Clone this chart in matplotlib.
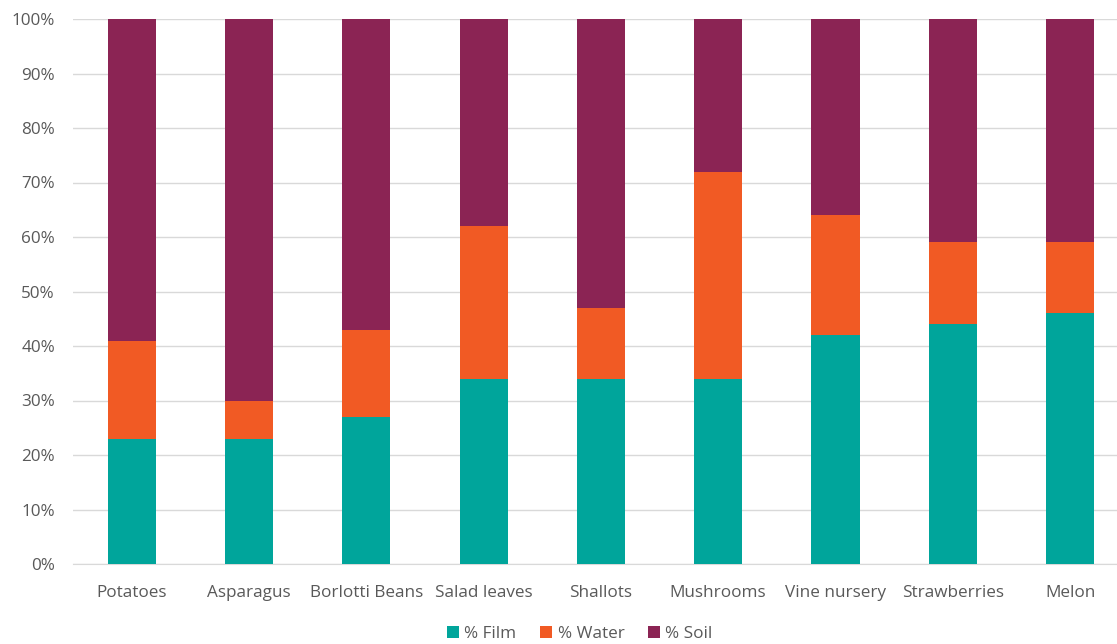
import numpy as np
import matplotlib.pyplot as plt
from matplotlib.ticker import PercentFormatter

# Share of each crop's footprint by component (percent)
crops = ["Potatoes", "Asparagus", "Borlotti Beans", "Salad leaves", "Shallots",
         "Mushrooms", "Vine nursery", "Strawberries", "Melon"]
film = [23, 23, 27, 34, 34, 34, 42, 44, 46]
water = [18, 7, 16, 28, 13, 38, 22, 15, 13]
soil = [100 - f - w for f, w in zip(film, water)]

colors = ["#00A59B", "#F15A24", "#8B2454"]
text_color = "#595959"

plt.rcParams['font.family'] = ['Open Sans', 'DejaVu Sans']

fig = plt.figure(figsize=(11.17, 6.44), dpi=100)
ax = fig.add_axes([73 / 1117, 80 / 644, (1117 - 73) / 1117, 545 / 644])

x = np.arange(len(crops))
width = 0.41
bottom = np.zeros(len(crops))
for vals, label, c in zip([film, water, soil], ["% Film", "% Water", "% Soil"], colors):
    ax.bar(x, vals, width, bottom=bottom, color=c, label=label, zorder=3)
    bottom += np.array(vals)

ax.set_ylim(0, 100)
ax.set_xlim(-0.5, 8.40)
ax.set_yticks(np.arange(0, 101, 10))
ax.yaxis.set_major_formatter(PercentFormatter(decimals=0))
ax.set_xticks(x)
ax.set_xticklabels(crops)
ax.tick_params(axis='both', length=0, colors=text_color, labelsize=12.3)
ax.tick_params(axis='x', pad=15)
ax.tick_params(axis='y', pad=13)
ax.grid(axis='y', color="#D9D9D9", linewidth=1, zorder=0)
for s in ["top", "right", "left"]:
    ax.spines[s].set_visible(False)
ax.spines["bottom"].set_color("#D9D9D9")

leg = fig.legend(loc="center", bbox_to_anchor=(580 / 1117, 1 - 634 / 644), ncol=3,
                 frameon=False, fontsize=12.3, handlelength=0.7, handleheight=0.7,
                 handletextpad=0.3, columnspacing=1.4)
for t in leg.get_texts():
    t.set_color(text_color)

fig.savefig("out.png", dpi=100)
